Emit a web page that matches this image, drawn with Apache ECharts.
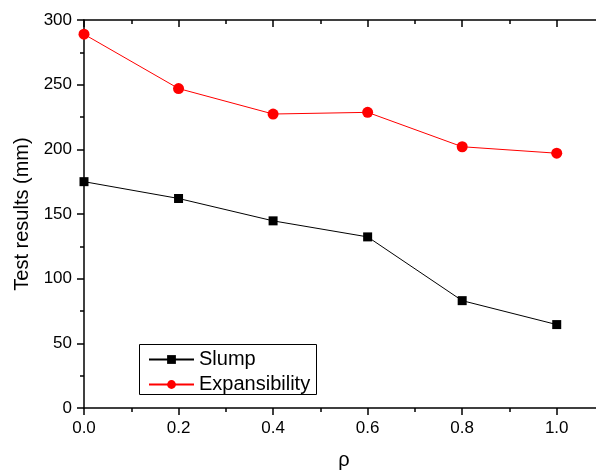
<!DOCTYPE html>
<html>
<head>
<meta charset="utf-8">
<script src="https://cdn.jsdelivr.net/npm/echarts@6/dist/echarts.min.js"></script>
<style>html,body{margin:0;padding:0;background:#fff}#c{width:596px;height:472px}</style>
</head>
<body>
<div id="c"></div>
<script>
var rho = [0.0, 0.2, 0.4, 0.6, 0.8, 1.0];
var slump = [175, 162, 144.7, 132.3, 83, 64.5];
var expansibility = [289, 247, 227.3, 228.6, 202, 197];
var xTickLabels = ['0.0', '0.2', '0.4', '0.6', '0.8', '1.0'];
var yTickLabels = [0, 50, 100, 150, 200, 250, 300];

var F = 'Liberation Sans, Arial, sans-serif';
function pairs(xs, ys) { return xs.map(function (x, i) { return [x, ys[i]]; }); }

var chart = echarts.init(document.getElementById('c'));
chart.setOption({
  animation: false,
  backgroundColor: '#fff',
  grid: { left: 84, top: 20, right: -8, bottom: 64, containLabel: false, outerBoundsMode: 'none' },
  xAxis: [{
    type: 'value', min: 0, max: 1.1, interval: 0.2, position: 'bottom',
    name: 'ρ', nameLocation: 'middle', nameGap: 42,
    nameTextStyle: { fontFamily: F, fontSize: 20, color: '#000' },
    axisLine: { show: true, lineStyle: { color: '#000', width: 1.5 } },
    axisTick: { show: true, inside: false, length: 7, lineStyle: { color: '#000', width: 1.5 } },
    minorTick: { show: true, splitNumber: 2, length: 4, lineStyle: { color: '#000', width: 1.5 } },
    axisLabel: { fontFamily: F, fontSize: 17, color: '#000', margin: 12,
      formatter: function (v) { var i = Math.round(v / 0.2); return Math.abs(v - i * 0.2) < 1e-6 && i < xTickLabels.length ? xTickLabels[i] : ''; } },
    splitLine: { show: false }
  }, {
    type: 'value', min: 0, max: 1.1, interval: 0.2, position: 'top',
    axisLine: { show: true, lineStyle: { color: '#000', width: 1.5 } },
    axisTick: { show: true, inside: true, length: 7, lineStyle: { color: '#000', width: 1.5 } },
    minorTick: { show: true, splitNumber: 2, length: 4, lineStyle: { color: '#000', width: 1.5 } },
    axisLabel: { show: false },
    splitLine: { show: false }
  }],
  yAxis: {
    type: 'value', min: 0, max: 300, interval: 50,
    name: 'Test results (mm)', nameLocation: 'middle', nameGap: 46,
    nameTextStyle: { fontFamily: F, fontSize: 20, color: '#000' },
    axisLine: { show: true, lineStyle: { color: '#000', width: 1.5 } },
    axisTick: { show: true, inside: false, length: 7, lineStyle: { color: '#000', width: 1.5 } },
    minorTick: { show: true, splitNumber: 2, length: 4, lineStyle: { color: '#000', width: 1.5 } },
    axisLabel: { fontFamily: F, fontSize: 17, color: '#000', margin: 12,
      formatter: function (v) { return yTickLabels.indexOf(v) >= 0 ? String(v) : ''; } },
    splitLine: { show: false }
  },
  legend: {
    orient: 'vertical', left: 143, top: 344,
    itemWidth: 45, itemHeight: 11, itemGap: 4,
    textStyle: { fontFamily: F, fontSize: 20, lineHeight: 21, color: '#000' },
    data: ['Slump', 'Expansibility']
  },
  graphic: [{
    type: 'rect', left: 137, top: 342, z: 100,
    shape: { width: 177, height: 50 },
    style: { fill: 'none', stroke: '#000', lineWidth: 1 }
  }],
  series: [{
    name: 'Slump', type: 'line', data: pairs(rho, slump),
    symbol: 'rect', symbolSize: 9, clip: false,
    itemStyle: { color: '#000' }, lineStyle: { color: '#000', width: 1 }
  }, {
    name: 'Expansibility', type: 'line', data: pairs(rho, expansibility),
    symbol: 'circle', symbolSize: 11, clip: false,
    itemStyle: { color: '#ff0000' }, lineStyle: { color: '#ff0000', width: 1 }
  }]
});
</script>
</body>
</html>
